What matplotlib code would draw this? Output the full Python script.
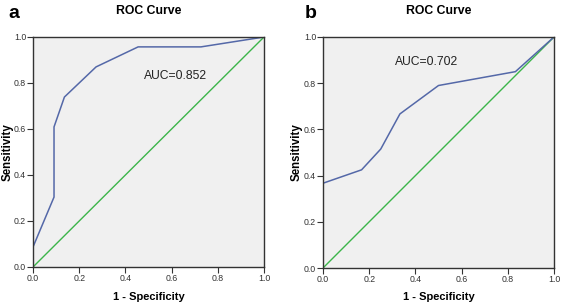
import matplotlib.pyplot as plt

# panel a
fpr_a = [0.0, 0.0, 0.091, 0.091, 0.136, 0.273, 0.455, 0.727, 1.0]
tpr_a = [0.0, 0.087, 0.304, 0.609, 0.739, 0.870, 0.957, 0.957, 1.0]
auc_a = "AUC=0.852"

# panel b
fpr_b = [0.0, 0.0, 0.167, 0.25, 0.333, 0.5, 0.833, 1.0]
tpr_b = [0.0, 0.367, 0.425, 0.515, 0.667, 0.79, 0.85, 1.0]
auc_b = "AUC=0.702"

ticks = [0.0, 0.2, 0.4, 0.6, 0.8, 1.0]
tick_labels = ["0.0", "0.2", "0.4", "0.6", "0.8", "1.0"]

plt.rcParams['font.family'] = ['Liberation Sans', 'DejaVu Sans']

fig = plt.figure(figsize=(5.67, 3.05), dpi=100)
W, H = 567, 305
ax_a = fig.add_axes([33 / W, 1 - 267 / H, 231 / W, 230 / H])
ax_b = fig.add_axes([323 / W, 1 - 268 / H, 231 / W, 231 / H])

# axes, x/y data, auc text, auc pos, letter, letter x, ylabel x
panels = [(ax_a, fpr_a, tpr_a, auc_a, (0.48, 0.83), "a", 8, 8),
          (ax_b, fpr_b, tpr_b, auc_b, (0.31, 0.89), "b", 305, 297)]

for ax, fx, ty, auc, pos, letter, lx, yx in panels:
    ax.set_facecolor('#f0f0f0')
    ax.plot([0, 1], [0, 1], color='#3cb54a', lw=1.0)
    ax.plot(fx, ty, color='#5468a8', lw=1.1)
    ax.set_xlim(0, 1)
    ax.set_ylim(0, 1)
    ax.set_xticks(ticks)
    ax.set_xticklabels(tick_labels)
    ax.set_yticks(ticks)
    ax.set_yticklabels(tick_labels)
    ax.tick_params(labelsize=6.3, colors='#333333', length=4, width=0.8, pad=1)
    for s in ax.spines.values():
        s.set_color('#333333')
        s.set_linewidth(1.0)
    bb = ax.get_position()
    cx = (bb.x0 + bb.x1) / 2
    fig.text(cx, 1 - 297 / H, "1 - Specificity", fontsize=8, fontweight='bold',
             ha='center', va='center')
    fig.text(yx / W, (bb.y0 + bb.y1) / 2, "Sensitivity", fontsize=8.3, fontweight='bold',
             rotation=90, ha='center', va='center')
    fig.text(cx, 1 - 11 / H, "ROC Curve", fontsize=8.8, fontweight='bold',
             ha='center', va='center')
    ax.text(pos[0], pos[1], auc, fontsize=8.7, color='#222222', va='center')
    fig.text(lx / W, 1 - 13 / H, letter, fontsize=14, fontweight='bold', va='center')

fig.savefig("out.png", dpi=100)
